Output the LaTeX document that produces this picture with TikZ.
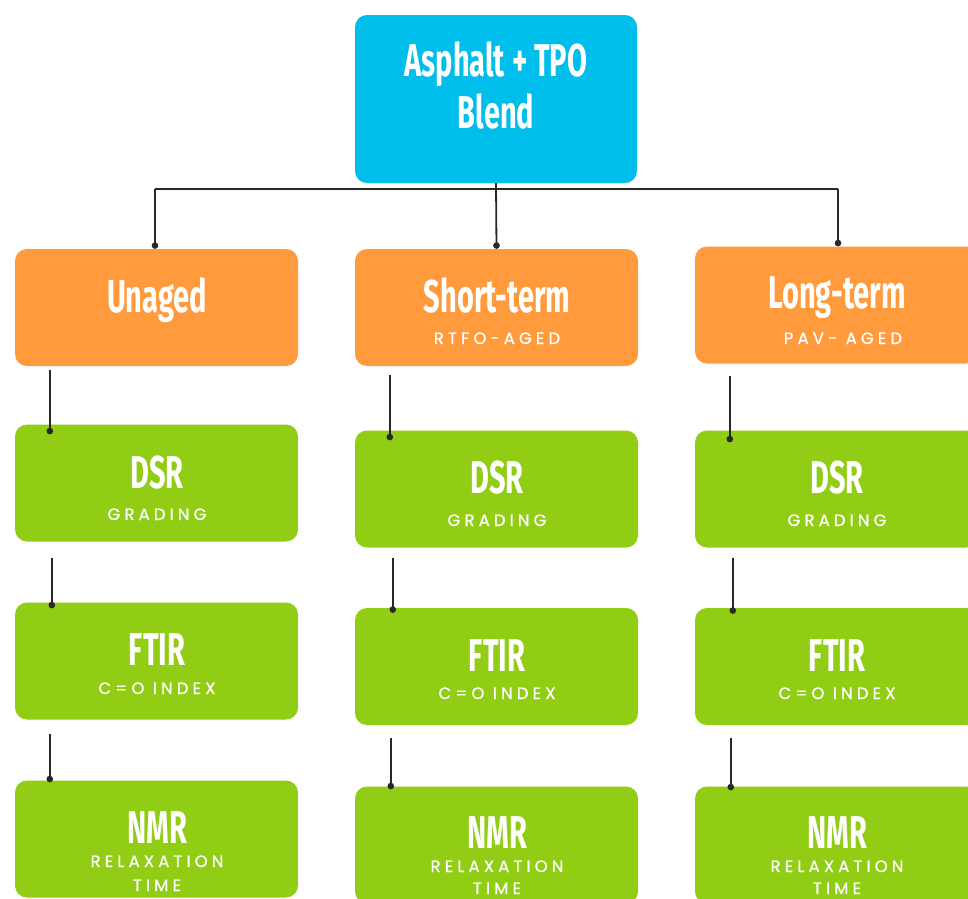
\documentclass[tikz,border=0pt]{standalone}
\usepackage{fontspec}
\usetikzlibrary{arrows.meta,calc}
\newfontfamily\ttlfont[FakeStretch=0.63]{Fira Sans}
\newfontfamily\subfont[LetterSpace=25,FakeBold=0.7]{Poppins}
\definecolor{cyanbox}{RGB}{0,190,235}
\definecolor{orangebox}{RGB}{255,155,60}
\definecolor{greenbox}{RGB}{145,205,20}
\definecolor{linecol}{RGB}{40,40,40}
\tikzset{
  box/.style={rounded corners=12pt, minimum width=283pt, minimum height=117pt, inner sep=0pt, draw=none},
  topbox/.style={box, fill=cyanbox, minimum width=282pt, minimum height=168pt},
  agebox/.style={box, fill=orangebox},
  testbox/.style={box, fill=greenbox},
  ttl/.style={anchor=base, text=white, font=\ttlfont\bfseries\fontsize{46}{46}\selectfont, inner sep=0pt},
  sub/.style={anchor=base, text=white, font=\subfont\fontsize{16.5}{16.5}\selectfont, inner sep=0pt},
  conn/.style={draw=linecol, line width=1.8pt},
  dotconn/.style={conn, -{Circle[length=6.5pt,width=6.5pt]}}
}
\begin{document}
\begin{tikzpicture}[x=1pt,y=-1pt]
\clip (0,0) rectangle (968,898);
\fill[white] (0,0) rectangle (968,898);
% top
\node[topbox] (top) at (496,99) {};
\node[ttl] (t1) at (496,76) {Asphalt + TPO};
\node[ttl] (t2) at (496,128) {Blend};
% aging boxes
\node[agebox] (a1) at (156.5,307.5) {};
\node[agebox] (a2) at (496.5,307.5) {};
\node[agebox] (a3) at (836.5,305) {};
\node[ttl] (a1t) at (157,312) {Unaged};
\node[ttl] (a2t) at (497,312) {Short-term};
\node[sub] (a2s) at (497,344) {RTFO-AGED};
\node[ttl] (a3t) at (837,308) {Long-term};
\node[sub] (a3s) at (843,344) {PAV- AGED};
% DSR
\node[testbox] (d1) at (156.5,483) {};
\node[testbox] (d2) at (496.5,489) {};
\node[testbox] (d3) at (836.5,489) {};
\node[ttl] (d1t) at (157,488) {DSR};
\node[sub] (d1s) at (157,520) {GRADING};
\node[ttl] (d2t) at (497,493) {DSR};
\node[sub] (d2s) at (497,526) {GRADING};
\node[ttl] (d3t) at (837,493) {DSR};
\node[sub] (d3s) at (837,526) {GRADING};
% FTIR
\node[testbox] (f1) at (156.5,661) {};
\node[testbox] (f2) at (496.5,666.5) {};
\node[testbox] (f3) at (836.5,666.5) {};
\node[ttl] (f1t) at (157,665) {FTIR};
\node[sub] (f1s) at (157,694) {C=O INDEX};
\node[ttl] (f2t) at (497,671) {FTIR};
\node[sub] (f2s) at (497,699) {C=O INDEX};
\node[ttl] (f3t) at (837,671) {FTIR};
\node[sub] (f3s) at (837,699) {C=O INDEX};
% NMR
\node[testbox] (n1) at (156.5,839) {};
\node[testbox] (n2) at (496.5,845) {};
\node[testbox] (n3) at (836.5,845) {};
\node[ttl] (n1t) at (157,843) {NMR};
\node[sub] (n1s) at (157,867) {RELAXATION};
\node[sub] (n1u) at (157,891) {TIME};
\node[ttl] (n2t) at (497,848) {NMR};
\node[sub] (n2s) at (497,872) {RELAXATION};
\node[sub] (n2u) at (497,894) {TIME};
\node[ttl] (n3t) at (837,848) {NMR};
\node[sub] (n3s) at (837,872) {RELAXATION};
\node[sub] (n3u) at (837,894) {TIME};
% bus
\coordinate (busL) at (155,189);
\coordinate (busR) at (838,189);
\draw[conn] (busL) -- (busR);
\draw[dotconn] (top.south) -- (a2.north);
\draw[dotconn] (busL) -- (busL |- a1.north);
\draw[dotconn] (busR) -- (busR |- a3.north);
% column connectors
\draw[dotconn] ([xshift=35pt,yshift=-4pt]a1.south west) -- ([xshift=35pt,yshift=-10pt]d1.north west);
\draw[dotconn] ([xshift=37pt,yshift=-16pt]d1.south west) -- ([xshift=37pt,yshift=-6pt]f1.north west);
\draw[dotconn] ([xshift=35pt,yshift=-14pt]f1.south west) -- ([xshift=35pt,yshift=-2pt]n1.north west);
\draw[dotconn] ([xshift=35pt,yshift=-9pt]a2.south west) -- ([xshift=35pt,yshift=-10pt]d2.north west);
\draw[dotconn] ([xshift=38pt,yshift=-10pt]d2.south west) -- ([xshift=38pt,yshift=-5pt]f2.north west);
\draw[dotconn] ([xshift=36pt,yshift=-13pt]f2.south west) -- ([xshift=36pt,yshift=-3pt]n2.north west);
\draw[dotconn] ([xshift=35pt,yshift=-12pt]a3.south west) -- ([xshift=35pt,yshift=-12pt]d3.north west);
\draw[dotconn] ([xshift=38pt,yshift=-10pt]d3.south west) -- ([xshift=38pt,yshift=-6pt]f3.north west);
\draw[dotconn] ([xshift=36pt,yshift=-13pt]f3.south west) -- ([xshift=36pt,yshift=-4pt]n3.north west);
\end{tikzpicture}
\end{document}
